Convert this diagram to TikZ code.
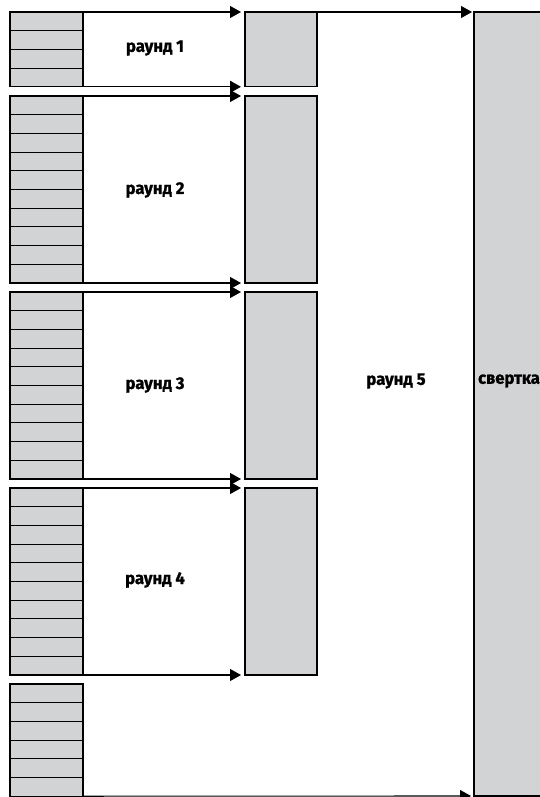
\documentclass[tikz,border=0pt]{standalone}
\usepackage{fontspec}
\setmainfont{Fira Sans}[FakeStretch=0.98, BoldFeatures={FakeBold=1.2}]
\usetikzlibrary{arrows.meta}
\definecolor{boxgray}{RGB}{210,211,213}
\tikzset{
  cell/.style={draw=black, fill=boxgray, line width=1.1pt, outer sep=0pt, inner sep=0pt, anchor=north west},
  flow/.style={draw=black, line width=1.1pt, -{Triangle[length=11pt,width=12pt]}},
  lbl/.style={font=\fontsize{17}{19}\selectfont\bfseries, inner sep=0pt}
}
\begin{document}
\begin{tikzpicture}[x=1pt,y=-1pt]
\useasboundingbox (0,0) rectangle (540,797);
% stacks on the left
\def\rh{18.7}
\foreach \name/\top/\n in {g1/12/4, g2/96/10, g3/292/10, g4/488/10, g5/684/6}{
  \node[cell, minimum width=73pt, minimum height={\n*\rh}] (\name) at (10,\top) {};
  \foreach \i in {1,...,\n}{
    \pgfmathsetmacro{\yy}{\top+\i*\rh}
    \ifnum\i<\n \draw[line width=1.1pt] (10,\yy) -- (83,\yy); \fi
  }
}
% middle boxes
\foreach \name/\top/\n in {m1/12/4, m2/96/10, m3/292/10, m4/488/10}{
  \node[cell, minimum width=72pt, minimum height={\n*\rh}] (\name) at (245,\top) {};
}
% final box
\node[cell, minimum width=68pt, minimum height=784pt] (fin) at (474,12) {};
% arrows
\draw[flow] (g1.north east) -- ([xshift=-4pt]m1.north west);
\draw[flow] (g1.south east) -- ([xshift=-4pt]m1.south west);
\draw[flow] (g2.north east) -- ([xshift=-4pt]m2.north west);
\draw[flow] (g2.south east) -- ([xshift=-4pt]m2.south west);
\draw[flow] (g3.north east) -- ([xshift=-4pt]m3.north west);
\draw[flow] (g3.south east) -- ([xshift=-4pt]m3.south west);
\draw[flow] (g4.north east) -- ([xshift=-4pt]m4.north west);
\draw[flow] (g4.south east) -- ([xshift=-4pt]m4.south west);
\draw[flow] (m1.north east) -- ([xshift=-2pt]fin.north west);
\draw[flow] (g5.south east) -- ([xshift=-3pt]fin.south west);
% labels
\node[lbl] (l1) at (155,48) {раунд 1};
\node[lbl] (l2) at (155,190) {раунд 2};
\node[lbl] (l3) at (155,385) {раунд 3};
\node[lbl] (l4) at (155,580) {раунд 4};
\node[lbl] (l5) at (396,381) {раунд 5};
\node[lbl] (l6) at (509,381) {свертка};
\end{tikzpicture}
\end{document}
